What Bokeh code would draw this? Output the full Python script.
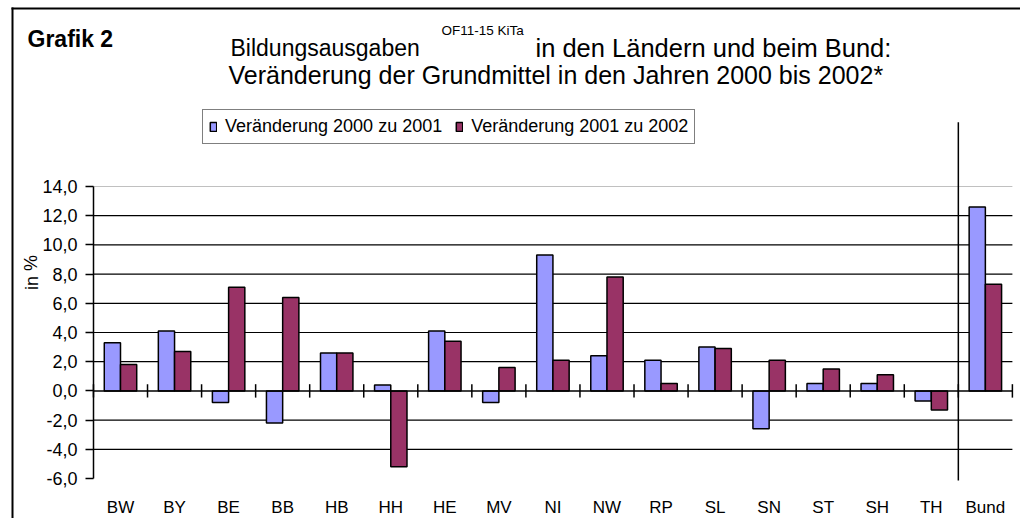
from bokeh.plotting import figure
from bokeh.models import (Range1d, FixedTicker, LinearAxis, Legend,
                          LegendItem, Label, BoxAnnotation, ColumnDataSource)
from bokeh.transform import dodge
from bokeh.embed import file_html
from bokeh.resources import INLINE

# ---- data ----
categories = ["BW", "BY", "BE", "BB", "HB", "HH", "HE", "MV", "NI", "NW",
              "RP", "SL", "SN", "ST", "SH", "TH", "Bund"]
change_2000_2001 = [3.3, 4.1, -0.8, -2.2, 2.6, 0.4, 4.1, -0.8, 9.3, 2.4,
                    2.1, 3.0, -2.6, 0.5, 0.5, -0.7, 12.6]
change_2001_2002 = [1.8, 2.7, 7.1, 6.4, 2.6, -5.2, 3.4, 1.6, 2.1, 7.8,
                    0.5, 2.9, 2.1, 1.5, 1.1, -1.3, 7.3]
series_labels = ["Veränderung 2000 zu 2001", "Veränderung 2001 zu 2002"]
y_ticks = [-6, -4, -2, 0, 2, 4, 6, 8, 10, 12, 14]
y_tick_labels = ["-6,0", "-4,0", "-2,0", "0,0", "2,0", "4,0", "6,0",
                 "8,0", "10,0", "12,0", "14,0"]

FONT = "Liberation Sans"
BLUE = "#9999FF"
RED = "#993366"

n = len(categories)
centers = [i + 0.5 for i in range(n)]
src = ColumnDataSource(dict(x=centers, a=change_2000_2001, b=change_2001_2002))

p = figure(x_range=Range1d(-1.72, 17.15), y_range=Range1d(-8.74, 26.74),
           width=1020, height=518, output_backend="svg", toolbar_location=None,
           x_axis_type=None, y_axis_type=None,
           min_border=0, min_border_left=0, min_border_right=0,
           min_border_top=0, min_border_bottom=0)
p.outline_line_color = None
p.background_fill_color = "white"
p.border_fill_color = "white"
p.xgrid.visible = False
p.ygrid.visible = False

# grid lines (span the category area only)
grid_y = [t for t in y_ticks if t not in (-6, 0, 14)]
p.segment(x0=0, x1=n, y0=grid_y, y1=grid_y, line_color="black", line_width=1.2)
p.segment(x0=0, x1=n, y0=[y_ticks[-1]], y1=[y_ticks[-1]], line_color="#C0C0C0", line_width=1)

# y axis at the left edge of the category area
yaxis = LinearAxis(fixed_location=0)
yaxis.ticker = FixedTicker(ticks=y_ticks)
yaxis.major_label_overrides = {t: l for t, l in zip(y_ticks, y_tick_labels)}
yaxis.bounds = (y_ticks[0], y_ticks[-1])
yaxis.major_tick_out = 8
yaxis.major_tick_in = 0
yaxis.minor_tick_line_color = None
yaxis.axis_line_width = 1.5
yaxis.major_tick_line_width = 1.5
yaxis.major_label_standoff = 8
yaxis.major_label_text_font = FONT
yaxis.major_label_text_font_size = "18px"
yaxis.major_label_text_color = "black"
p.add_layout(yaxis, "left")

# x axis with category names
xaxis = LinearAxis(fixed_location=y_ticks[0])
xaxis.ticker = FixedTicker(ticks=centers)
xaxis.major_label_overrides = {c: name for c, name in zip(centers, categories)}
xaxis.axis_line_color = None
xaxis.major_tick_line_color = None
xaxis.minor_tick_line_color = None
xaxis.major_label_standoff = 14
xaxis.major_label_text_font = FONT
xaxis.major_label_text_font_size = "17px"
xaxis.major_label_text_color = "black"
p.add_layout(xaxis, "below")

# bars
r1 = p.vbar(x=dodge("x", -0.15), top="a", bottom=0, width=0.3,
            source=src, fill_color=BLUE, line_color="black", line_width=1.5)
r2 = p.vbar(x=dodge("x", 0.15), top="b", bottom=0, width=0.3,
            source=src, fill_color=RED, line_color="black", line_width=1.5)

# zero axis line and category boundary ticks
bounds_x = list(range(n + 1))
p.segment(x0=0, x1=n, y0=0, y1=0, line_color="black", line_width=1.5)
p.segment(x0=bounds_x, x1=bounds_x, y0=-0.46, y1=0.46, line_color="black", line_width=1.5)
# separator before "Bund"
p.segment(x0=[n - 1], x1=[n - 1], y0=-6.14, y1=18.4, line_color="black", line_width=1.5)

# legend
legend = Legend(items=[LegendItem(label=series_labels[0], renderers=[r1]),
                       LegendItem(label=series_labels[1], renderers=[r2])],
                orientation="horizontal", location=(202, 374),
                glyph_width=8, glyph_height=11, label_standoff=8, spacing=13,
                padding=6, margin=0, border_line_color="black", border_line_width=1.5,
                label_text_font=FONT, label_text_font_size="18px", label_height=18,
                label_text_color="black",
                background_fill_color="white", background_fill_alpha=1)
p.add_layout(legend, "center")

# outer frame (top and left edges visible)
def bar(l, r, t, b):
    p.add_layout(BoxAnnotation(left=l, right=r, top=t, bottom=b,
                               left_units="canvas", right_units="canvas",
                               top_units="canvas", bottom_units="canvas",
                               fill_color="black", fill_alpha=1, line_color=None))
bar(11, 1020, 7, 9)
bar(11, 13, 7, 518)

def lab(text, x, y, size, bold=False, **kw):
    p.add_layout(Label(text=text, x=x, y=y, x_units="canvas", y_units="canvas",
                       text_font=FONT, text_font_size=size,
                       text_font_style="bold" if bold else "normal",
                       text_color="black", text_baseline="alphabetic", **kw))

lab("Grafik 2", 27, 38, "23px", bold=True)
lab("Bildungsausgaben", 230, 47, "23px")
lab("OF11-15 KiTa", 441, 30, "13.5px")
lab("in den Ländern und beim Bund:", 535, 47, "25.5px")
lab("Veränderung der Grundmittel in den Jahren 2000 bis 2002*", 228, 74, "25px")

# y axis title
p.add_layout(Label(text="in %", x=31, y=272, x_units="canvas", y_units="canvas",
                   angle=1.5708, text_align="center", text_baseline="middle",
                   text_font=FONT, text_font_size="18px", text_color="black"))

open("out.html", "w").write(file_html(p, INLINE))
